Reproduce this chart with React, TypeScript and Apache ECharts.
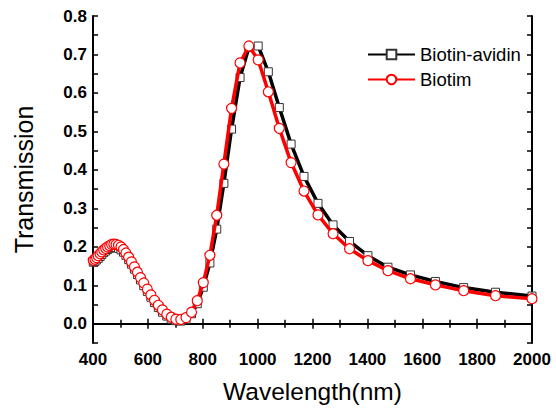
import React, { useEffect, useRef } from "react";
import * as echarts from "echarts";

const wavelengths = [
  401, 407, 413, 419, 426, 432, 439, 446, 453, 461, 468, 476, 484, 493, 502, 511,
  520, 530, 540, 551, 562, 573, 585, 598, 611, 624, 638, 653, 669, 685, 702, 720,
  739, 759, 780, 802, 826, 851, 877, 905, 936, 968, 1002, 1039, 1079, 1122, 1169,
  1220, 1275, 1335, 1402, 1475, 1557, 1648, 1751, 1867, 2000,
];

const biotinAvidin = [
  0.160, 0.162, 0.166, 0.170, 0.175, 0.180, 0.185, 0.189, 0.193, 0.196, 0.198, 0.199,
  0.198, 0.196, 0.192, 0.186, 0.178, 0.167, 0.155, 0.142, 0.128, 0.114, 0.099, 0.084,
  0.069, 0.055, 0.042, 0.030, 0.020, 0.012, 0.008, 0.007, 0.011, 0.026, 0.052, 0.095,
  0.158, 0.246, 0.365, 0.506, 0.640, 0.718, 0.722, 0.655, 0.562, 0.467, 0.383, 0.313,
  0.257, 0.214, 0.177, 0.147, 0.127, 0.110, 0.094, 0.082, 0.072,
];

const biotim = [
  0.165, 0.168, 0.172, 0.177, 0.182, 0.187, 0.192, 0.196, 0.200, 0.203, 0.206, 0.207,
  0.206, 0.204, 0.200, 0.193, 0.184, 0.173, 0.161, 0.148, 0.134, 0.120, 0.106, 0.090,
  0.075, 0.061, 0.048, 0.036, 0.025, 0.017, 0.012, 0.011, 0.016, 0.030, 0.060, 0.107,
  0.178, 0.282, 0.415, 0.560, 0.678, 0.722, 0.686, 0.603, 0.508, 0.419, 0.345, 0.283,
  0.234, 0.195, 0.164, 0.138, 0.117, 0.101, 0.086, 0.073, 0.065,
];

const seriesNames = ["Biotin-avidin", "Biotim"];

const FONT = "'Liberation Sans', Arial, sans-serif";

export default function App() {
  const ref = useRef<HTMLDivElement>(null);

  useEffect(() => {
    if (!ref.current) return;
    const chart = echarts.init(ref.current, null, { renderer: "svg" });

    const axisLine = { show: true, lineStyle: { color: "#000", width: 2 } };
    const tick = { show: true, inside: true, length: 5, lineStyle: { color: "#000", width: 1.5 } };
    const minor = { show: true, splitNumber: 2, length: 4, lineStyle: { color: "#000", width: 1.5 } };
    const yFormatter = (v: number) => {
      const k = Math.round(v * 100);
      if (k % 10 !== 0) return "";
      return (k / 100).toFixed(1);
    };

    const xCommon = {
      type: "value" as const,
      min: 400,
      max: 2000,
      interval: 200,
      axisLine,
      axisTick: tick,
      minorTick: minor,
      splitLine: { show: false },
    };
    const yCommon = {
      type: "value" as const,
      min: -0.05,
      max: 0.8,
      interval: 0.05,
      axisLine,
      axisTick: tick,
      splitLine: { show: false },
    };

    chart.setOption({
      animation: false,
      backgroundColor: "#fff",
      grid: { left: 93, right: 24, top: 16, bottom: 70 },
      legend: {
        data: seriesNames,
        orient: "vertical",
        left: 362,
        top: 40,
        itemWidth: 47,
        itemHeight: 12,
        itemGap: 6,
        textStyle: { fontFamily: FONT, fontSize: 18.5, color: "#000" },
      },
      xAxis: [
        {
          ...xCommon,
          position: "bottom",
          name: "Wavelength(nm)",
          nameLocation: "middle",
          nameGap: 36,
          nameTextStyle: { fontFamily: FONT, fontSize: 24.5, color: "#000" },
          axisLabel: {
            show: true,
            margin: 8,
            fontFamily: FONT,
            fontSize: 17,
            fontWeight: "bold",
            color: "#000",
            formatter: (v: number) => String(v),
          },
        },
        {
          ...xCommon,
          position: "top",
          axisLabel: { show: false },
        },
      ],
      yAxis: [
        {
          ...yCommon,
          position: "left",
          name: "Transmission",
          nameLocation: "middle",
          nameGap: 57,
          nameRotate: 90,
          nameTextStyle: { fontFamily: FONT, fontSize: 25, color: "#000" },
          axisLabel: {
            show: true,
            margin: 6,
            fontFamily: FONT,
            fontSize: 17,
            fontWeight: "bold",
            color: "#000",
            formatter: yFormatter,
          },
        },
        {
          ...yCommon,
          position: "right",
          axisLabel: { show: false },
        },
      ],
      series: [
        {
          name: seriesNames[0],
          type: "line",
          data: wavelengths.map((w, i) => [w, biotinAvidin[i]]),
          symbol: "rect",
          symbolSize: 8,
          showAllSymbol: true,
          lineStyle: { color: "#000", width: 3.5 },
          itemStyle: { color: "#fff", borderColor: "#333", borderWidth: 1 },
          z: 2,
        },
        {
          name: seriesNames[1],
          type: "line",
          data: wavelengths.map((w, i) => [w, biotim[i]]),
          symbol: "circle",
          symbolSize: 10,
          showAllSymbol: true,
          lineStyle: { color: "#f00", width: 3.5 },
          itemStyle: { color: "#fff", borderColor: "#f00", borderWidth: 1.2 },
          z: 3,
        },
      ],
    });

    return () => chart.dispose();
  }, []);

  return (
    <div
      ref={ref}
      style={{ position: "fixed", left: 0, top: 0, width: 556, height: 413 }}
    />
  );
}
